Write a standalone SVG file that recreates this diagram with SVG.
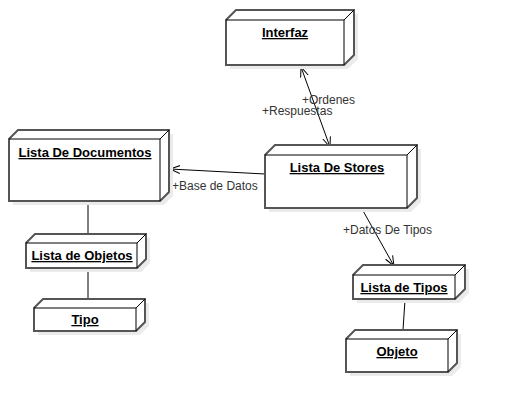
<svg xmlns="http://www.w3.org/2000/svg" width="505" height="414" viewBox="0 0 505 414">
<defs>
<style>
.sh{fill:#ebebeb;stroke:none}
.face{fill:#fff;stroke:#555;stroke-width:2}
.dg{stroke:#000;stroke-width:1;fill:none}
.t{font-family:"Liberation Sans",Arial,sans-serif;font-size:13px;font-weight:bold;text-decoration:underline;fill:#000;text-anchor:middle}
.lbl{font-family:"Liberation Sans",Arial,sans-serif;font-size:12px;fill:#333}
.e{stroke:#000;stroke-width:1;fill:none}
</style>
<marker id="arr" viewBox="0 0 10 10" refX="10" refY="5" markerWidth="10" markerHeight="10" markerUnits="userSpaceOnUse" orient="auto-start-reverse">
<path d="M0,1 L10,5 L0,9" fill="none" stroke="#000" stroke-width="1"/>
</marker>
</defs>
<rect width="505" height="414" fill="#fff"/>
<g id="edges">
<line class="e" x1="301" y1="67" x2="330" y2="147" marker-start="url(#arr)" marker-end="url(#arr)"/>
<line class="e" x1="265" y1="174" x2="170" y2="169" marker-end="url(#arr)"/>
<line class="e" x1="362" y1="209" x2="394" y2="266" marker-end="url(#arr)"/>
<line class="e" x1="88" y1="201" x2="88" y2="234"/>
<line class="e" x1="88" y1="268" x2="88" y2="298"/>
<line class="e" x1="405" y1="300" x2="403" y2="330"/>
<text class="lbl" x="302" y="104">+Ordenes</text>
<text class="lbl" x="262" y="115">+Respuestas</text>
<text class="lbl" x="172" y="190">+Base de Datos</text>
<text class="lbl" x="343" y="234">+Datos De Tipos</text>
</g>
<g id="interfaz">
<path class="sh" d="M230,24 L240,14 L358,14 L358,59 L348,69 L230,69 Z"/>
<path class="face" d="M226,20 L236,10 L354,10 L354,55 L344,65 L226,65 Z"/>
<path class="dg" d="M226,20 L344,20 L354,10 M344,20 L344,65"/>
<text class="t" x="285" y="37">Interfaz</text>
</g>
<g id="documentos">
<path class="sh" d="M13,143 L22,134 L173,134 L173,196 L164,205 L13,205 Z"/>
<path class="face" d="M9,139 L18,130 L169,130 L169,192 L160,201 L9,201 Z"/>
<path class="dg" d="M9,139 L160,139 L169,130 M160,139 L160,201"/>
<text class="t" x="85" y="157">Lista De Documentos</text>
</g>
<g id="stores">
<path class="sh" d="M269,159 L279,149 L421,149 L421,202 L411,212 L269,212 Z"/>
<path class="face" d="M265,155 L275,145 L417,145 L417,198 L407,208 L265,208 Z"/>
<path class="dg" d="M265,155 L407,155 L417,145 M407,155 L407,208"/>
<text class="t" x="337" y="172">Lista De Stores</text>
</g>
<g id="objetos">
<path class="sh" d="M30,247 L39,238 L150,238 L150,263 L141,272 L30,272 Z"/>
<path class="face" d="M26,243 L35,234 L146,234 L146,259 L137,268 L26,268 Z"/>
<path class="dg" d="M26,243 L137,243 L146,234 M137,243 L137,268"/>
<text class="t" x="82" y="260">Lista de Objetos</text>
</g>
<g id="tipo">
<path class="sh" d="M38,312 L47,303 L149,303 L149,326 L140,335 L38,335 Z"/>
<path class="face" d="M34,308 L43,299 L145,299 L145,322 L136,331 L34,331 Z"/>
<path class="dg" d="M34,308 L136,308 L145,299 M136,308 L136,331"/>
<text class="t" x="85" y="324">Tipo</text>
</g>
<g id="tipos">
<path class="sh" d="M357,279 L367,269 L469,269 L469,293 L459,303 L357,303 Z"/>
<path class="face" d="M353,275 L363,265 L465,265 L465,289 L455,299 L353,299 Z"/>
<path class="dg" d="M353,275 L455,275 L465,265 M455,275 L455,299"/>
<text class="t" x="404" y="292">Lista de Tipos</text>
</g>
<g id="objeto">
<path class="sh" d="M350,343 L359,334 L461,334 L461,367 L452,376 L350,376 Z"/>
<path class="face" d="M346,339 L355,330 L457,330 L457,363 L448,372 L346,372 Z"/>
<path class="dg" d="M346,339 L448,339 L457,330 M448,339 L448,372"/>
<text class="t" x="397" y="356">Objeto</text>
</g>
</svg>
